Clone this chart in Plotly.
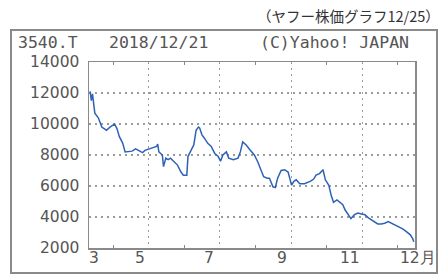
import plotly.graph_objects as go

dates = [
    "2018-03-12", "2018-03-13", "2018-03-14", "2018-03-15", "2018-03-16", "2018-03-19",
    "2018-03-22", "2018-03-26", "2018-03-29", "2018-04-02", "2018-04-04", "2018-04-06",
    "2018-04-09", "2018-04-11", "2018-04-17", "2018-04-20", "2018-04-23", "2018-04-26",
    "2018-04-28", "2018-05-03", "2018-05-08", "2018-05-09", "2018-05-10", "2018-05-13",
    "2018-05-14", "2018-05-16", "2018-05-18", "2018-05-20", "2018-05-23", "2018-05-26",
    "2018-05-29", "2018-05-31", "2018-06-03", "2018-06-04", "2018-06-06", "2018-06-09",
    "2018-06-11", "2018-06-13", "2018-06-14", "2018-06-16", "2018-06-18", "2018-06-21",
    "2018-06-24", "2018-06-27", "2018-06-30", "2018-07-02", "2018-07-04", "2018-07-07",
    "2018-07-09", "2018-07-13", "2018-07-17", "2018-07-19", "2018-07-21", "2018-07-24",
    "2018-07-27", "2018-07-31", "2018-08-03", "2018-08-06", "2018-08-08", "2018-08-11",
    "2018-08-13", "2018-08-16", "2018-08-18", "2018-08-20", "2018-08-23", "2018-08-26",
    "2018-08-29", "2018-09-01", "2018-09-03", "2018-09-05", "2018-09-08", "2018-09-12",
    "2018-09-17", "2018-09-20", "2018-09-22", "2018-09-25", "2018-09-28", "2018-09-30",
    "2018-10-03", "2018-10-05", "2018-10-07", "2018-10-10", "2018-10-13", "2018-10-15",
    "2018-10-17", "2018-10-20", "2018-10-22", "2018-10-25", "2018-10-28", "2018-10-31",
    "2018-11-03", "2018-11-06", "2018-11-09", "2018-11-12", "2018-11-14", "2018-11-17",
    "2018-11-20", "2018-11-23", "2018-11-26", "2018-11-29", "2018-12-02", "2018-12-05",
    "2018-12-07", "2018-12-10", "2018-12-12", "2018-12-14", "2018-12-15",
]
prices = [
    12100, 11500, 11950, 11200, 10700, 10400,
    9800, 9600, 9800, 10000, 9700, 9200,
    8750, 8200, 8250, 8400, 8300, 8150,
    8300, 8400, 8550, 8700, 8200, 8000,
    7250, 7800, 7700, 7800, 7600, 7350,
    6900, 6700, 6700, 7900, 8200, 8650,
    9600, 9800, 9750, 9300, 9100, 8750,
    8550, 8100, 7900, 7600, 8000, 8200,
    7800, 7700, 7800, 8200, 8850, 8650,
    8350, 8000, 7550, 7050, 6600, 6500,
    6500, 5950, 5900, 6500, 7000, 7050,
    6900, 6050, 6300, 6400, 6150, 6150,
    6300, 6450, 6700, 6800, 7050, 6400,
    6050, 5400, 4950, 5100, 4900, 4800,
    4450, 4150, 3900, 4150, 4250, 4200,
    4150, 3950, 3800, 3700, 3550, 3550,
    3600, 3700, 3600, 3500, 3400, 3250,
    3150, 3000, 2850, 2600, 2400,
]

y_ticks = [2000, 4000, 6000, 8000, 10000, 12000, 14000]
x_range = ["2018-03-11", "2018-12-16"]
grid_months = ["2018-05-01", "2018-07-01", "2018-09-01", "2018-11-01"]
tick_months = ["2018-04-01", "2018-06-01", "2018-08-01", "2018-10-01", "2018-12-01"]
x_labels = ["3", "5", "7", "9", "11", "12月"]
x_label_pos = ["2018-03-11", "2018-05-01", "2018-07-01", "2018-09-01", "2018-11-01", "2018-12-01"]
x_label_anchor = ["left", "right", "right", "right", "right", "left"]
x_label_shift = [-2, -1, -3, -3, -1, 0]

header_texts = ["3540.T", "2018/12/21", "(C)Yahoo! JAPAN"]
header_px = [16, 107, 258]
caption = "（ヤフー株価グラフ12/25）"

W, H = 446, 276
L, R, T, B = 89, 31, 62, 28
pw = W - L - R
ph = H - T - B

fig = go.Figure()
fig.add_trace(go.Scatter(x=dates, y=prices, mode="lines",
                         line=dict(color="#2f62b5", width=1.5), showlegend=False,
                         hoverinfo="skip"))

gray = "#555555"
fig.update_layout(
    width=W, height=H,
    margin=dict(l=L, r=R, t=T, b=B, autoexpand=False),
    paper_bgcolor="white", plot_bgcolor="white",
    font=dict(family="DejaVu Sans", size=15, color=gray),
    xaxis=dict(
        type="date", range=x_range, automargin=False,
        tickmode="array", tickvals=tick_months,
        ticks="inside", ticklen=3, tickwidth=1, tickcolor="#888888",
        showticklabels=False, showgrid=False, zeroline=False,
        showline=True, linecolor="#8a8a8a", linewidth=1.5, mirror="ticks",
        minor=dict(tickmode="array", tickvals=grid_months, showgrid=True,
                   gridcolor="#9a9a9a", griddash="2px,4px", gridwidth=1.5,
                   ticks=""),
    ),
    yaxis=dict(
        range=[2000, 14000], tickmode="array", tickvals=y_ticks, automargin=False,
        ticktext=[str(v) for v in y_ticks],
        showgrid=True, gridcolor="#9a9a9a", griddash="2px,4px", gridwidth=1.5,
        zeroline=False, ticks="", ticklabelstandoff=5,
        showline=True, linecolor="#8a8a8a", linewidth=1.5, mirror=True,
        tickfont=dict(family="DejaVu Sans", size=15.5, color=gray),
    ),
)

for lab, pos, anc, sh in zip(x_labels, x_label_pos, x_label_anchor, x_label_shift):
    fig.add_annotation(x=pos, y=0, xref="x", yref="paper", text=lab,
                       xanchor=anc, yanchor="top", xshift=sh, yshift=1,
                       showarrow=False,
                       font=dict(family="DejaVu Sans", size=15.5, color=gray))

for txt, px in zip(header_texts, header_px):
    fig.add_annotation(x=(px - L) / pw, y=(H - B - 42) / ph, xref="paper", yref="paper",
                       text=txt, xanchor="left", yanchor="middle", showarrow=False,
                       font=dict(family="DejaVu Sans Mono", size=16.5, color=gray))

fig.add_annotation(x=(442 - L) / pw, y=(H - B - 15) / ph, xref="paper", yref="paper",
                   text=caption, xanchor="right", yanchor="middle", showarrow=False,
                   font=dict(family="Noto Sans CJK JP", size=14.5, color="#333333"))

# outer frame
fig.add_shape(type="rect", xref="paper", yref="paper",
              x0=(11 - L) / pw, x1=(437 - L) / pw,
              y0=(H - B - 273) / ph, y1=(H - B - 30) / ph,
              line=dict(color="#8a8a8a", width=2), fillcolor="rgba(0,0,0,0)", layer="below")

fig.write_html("out.html",
               config={"displayModeBar": False, "staticPlot": True},
               post_script="document.body.style.margin='0';document.body.style.padding='0';")
